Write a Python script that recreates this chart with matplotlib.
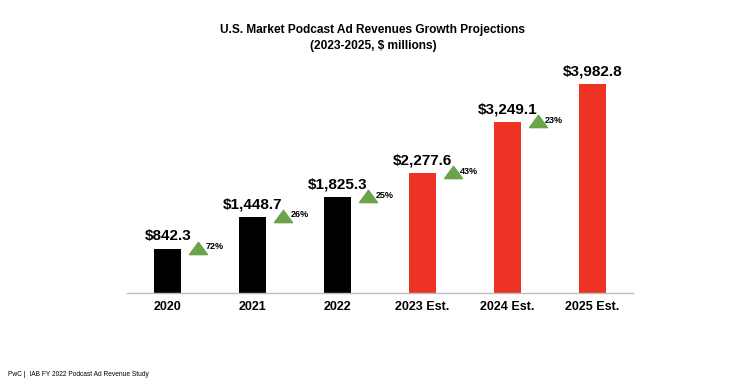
import matplotlib.pyplot as plt

plt.rcParams['font.family'] = ['Liberation Sans', 'DejaVu Sans']

# data
years = ["2020", "2021", "2022", "2023 Est.", "2024 Est.", "2025 Est."]
revenue = [842.3, 1448.7, 1825.3, 2277.6, 3249.1, 3982.8]
growth = ["72%", "26%", "25%", "43%", "23%"]
bar_colors = ["black", "black", "black", "#EE3224", "#EE3224", "#EE3224"]

# flat "up" triangle
tri = [(-1, -0.68), (1, -0.68), (0, 0.68), (-1, -0.68)]

fig = plt.figure(figsize=(7.4, 3.85), dpi=100)
ax = fig.add_axes([127 / 740, 1 - 293 / 385, (633 - 127) / 740, 233 / 385])

x = list(range(len(years)))
ax.bar(x, revenue, width=0.32, color=bar_colors, zorder=2)

for xi, v in zip(x, revenue):
    ax.text(xi, v + 110, f"${v:,.1f}", ha="center", va="bottom",
            fontsize=11, fontweight="bold")

# growth markers between bars
for i, g in enumerate(growth):
    xm = x[i] + 0.36
    ym = revenue[i] + 20
    ax.plot(xm, ym, marker=tri, markersize=13, color="#6BA34A",
            linestyle="none", zorder=3)
    ax.text(xm + 0.085, ym + 20, g, ha="left", va="center",
            fontsize=6.5, fontweight="bold")

ax.set_xlim(-0.48, 5.48)
ax.set_ylim(0, 4440)
ax.set_xticks(x)
ax.set_xticklabels(years, fontsize=9, fontweight="bold")
ax.tick_params(axis="x", length=0, pad=6)
ax.set_yticks([])
for s in ["top", "right", "left"]:
    ax.spines[s].set_visible(False)
ax.spines["bottom"].set_color("#BFBFBF")
ax.spines["bottom"].set_linewidth(1)

fig.text(0.504, 1 - 30 / 385, "U.S. Market Podcast Ad Revenues Growth Projections",
         ha="center", va="center", fontsize=8.6, fontweight="bold")
fig.text(0.504, 1 - 46 / 385, "(2023-2025, $ millions)",
         ha="center", va="center", fontsize=8.6, fontweight="bold")

fig.text(8 / 740, 1 - 374 / 385, "PwC |  IAB FY 2022 Podcast Ad Revenue Study",
         ha="left", va="center", fontsize=4.8)

fig.savefig("out.png", dpi=100, facecolor="white")
